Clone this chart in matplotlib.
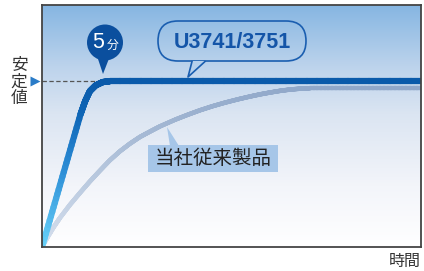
import matplotlib
matplotlib.use('Agg')
import matplotlib.pyplot as plt
import numpy as np
from matplotlib.collections import LineCollection
from matplotlib.colors import LinearSegmentedColormap
from matplotlib.patches import Circle, Polygon, FancyBboxPatch

plt.rcParams['font.family'] = ['Noto Sans CJK JP', 'DejaVu Sans']

# time (min) vs. fraction of the stable value
new_t = [0, 3.3, 3.7, 4.1, 4.6, 5.2, 5.8, 32.5]
new_v = [0, 0.80, 0.88, 0.94, 0.975, 0.995, 1.0, 1.0]

old_t = [0, 0.5, 1.0, 1.54, 2.4, 3.26, 4.1, 4.97, 5.8, 6.69, 7.55, 8.4,
         9.3, 10.12, 11.41, 12.5, 13.55, 14.6, 15.69, 16.8, 17.84, 18.7,
         19.55, 20.4, 21.27, 22.1, 22.98, 32.5]
old_v = [0, 0.062, 0.12, 0.176, 0.255, 0.327, 0.395, 0.461, 0.522, 0.578,
         0.624, 0.664, 0.698, 0.728, 0.768, 0.798, 0.825, 0.849, 0.871,
         0.891, 0.908, 0.921, 0.932, 0.942, 0.950, 0.955, 0.958, 0.958]

new_label = 'U3741/3751'
old_label = '当社従来製品'
time_mark = '5'
x_label = '時間'
y_label = '安\n定\n値'

x_max = 32.5
y_max = 1.46


def gradient_line(ax, xs, ys, cmap, lw, z):
    # split each segment so the colour can follow the height
    pts = []
    for i in range(len(xs) - 1):
        for f in np.linspace(0, 1, 30, endpoint=False):
            pts.append((xs[i] + f * (xs[i + 1] - xs[i]),
                        ys[i] + f * (ys[i + 1] - ys[i])))
    pts.append((xs[-1], ys[-1]))
    pts = np.array(pts)
    segs = np.stack([pts[:-1], pts[1:]], axis=1)
    lc = LineCollection(segs, cmap=cmap, linewidths=lw, zorder=z,
                        capstyle='round', joinstyle='round')
    lc.set_array((pts[:-1, 1] + pts[1:, 1]) / 2)
    lc.set_clim(0, 1)
    ax.add_collection(lc)


fig = plt.figure(figsize=(4.24, 2.71), dpi=100)
ax = fig.add_axes([42 / 424, 24 / 271, 379 / 424, 242 / 271])
ax.set_xlim(0, x_max)
ax.set_ylim(0, y_max)

bg = LinearSegmentedColormap.from_list(
    'bg', [(0, '#ffffff'), (0.25, '#f3f5fa'), (0.55, '#dbe5f2'),
           (0.75, '#bcd3ec'), (1.0, '#86b6e2')])
ax.imshow(np.linspace(0, 1, 256).reshape(-1, 1), cmap=bg, origin='lower',
          extent=[0, x_max, 0, y_max], aspect='auto', zorder=0)

# stable-value guide
ax.plot([0, 4.8], [1.0, 1.0], color='#555555', lw=0.9, ls=(0, (3.5, 2)),
        zorder=2)

old_cmap = LinearSegmentedColormap.from_list(
    'old', [(0, '#d6e0ee'), (0.5, '#b4c5dc'), (1.0, '#8ea6c8')])
new_cmap = LinearSegmentedColormap.from_list(
    'new', [(0, '#6ad4fa'), (0.5, '#2a8ad4'), (0.8, '#1068b8'),
            (1.0, '#0a5aaa')])
gradient_line(ax, old_t, old_v, old_cmap, 3.2, 3)
gradient_line(ax, new_t, new_v, new_cmap, 4.5, 4)

ax.set_xticks([])
ax.set_yticks([])
for s in ax.spines.values():
    s.set_color('#444444')
    s.set_linewidth(1.3)
    s.set_zorder(10)

# marker on the value axis
ax.plot([-0.6], [1.0], marker='>', ms=7, color='#2a7cc8', mec='none',
        clip_on=False, zorder=5)

# overlay in pixel units for the callouts
ov = fig.add_axes([0, 0, 1, 1], zorder=5)
ov.set_xlim(0, 424)
ov.set_ylim(271, 0)
ov.axis('off')
ov.patch.set_alpha(0)

# 5 min balloon
dark = '#0b4f9e'
ov.add_patch(Circle((105, 42.5), 18, color=dark, lw=0))
ov.add_patch(Polygon([(97, 56), (110, 56), (103, 74)], closed=True,
                     color=dark, lw=0))
ov.text(98, 43, time_mark, color='white', fontsize=15.5, ha='center',
        va='center', family=['Liberation Sans', 'DejaVu Sans'])
ov.text(113, 45, '分', color='white', fontsize=8.5, ha='center',
        va='center')

# new product callout
blue = '#1a5eb0'
ov.add_patch(FancyBboxPatch((158, 21), 148, 40,
                            boxstyle='round,pad=0,rounding_size=20',
                            fc='none', ec=blue, lw=1.2))
ov.add_patch(Polygon([(192, 61), (205, 61), (188, 77)], closed=True,
                     fc='#b5d0ec', ec='none'))
ov.plot([192, 188, 205], [61.5, 77, 61.5], color=blue, lw=1.2)
ov.text(232, 42, new_label, color='#1455a8', fontsize=15.5,
        fontweight='bold', ha='center', va='center',
        family=['Liberation Sans', 'DejaVu Sans'])

# conventional product label
lab = '#a6c6e8'
ov.add_patch(Polygon([(167, 127), (170, 146), (179, 146)], closed=True,
                     fc=lab, ec='none'))
ov.add_patch(plt.Rectangle((148, 145), 130, 27, fc=lab, ec='none'))
ov.text(213, 158.5, old_label, color='#222222', fontsize=14, ha='center',
        va='center')

fig.text(19 / 424, 1 - 82 / 271, y_label, fontsize=12, color='#333333',
         ha='center', va='center', linespacing=1.0)
fig.text(405 / 424, 1 - 261 / 271, x_label, fontsize=11.5, color='#333333',
         ha='center', va='center')

fig.savefig('out.png', dpi=100)
